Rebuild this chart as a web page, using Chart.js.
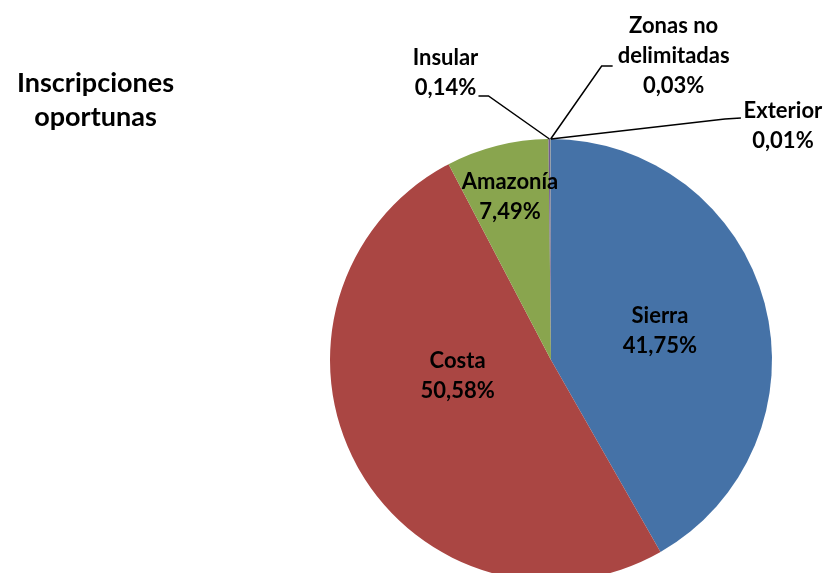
<!DOCTYPE html>
<html>
<head>
<meta charset="utf-8">
<script src="https://cdn.jsdelivr.net/npm/chart.js@4"></script>
<style>
  html, body { margin: 0; padding: 0; background: #fff; overflow: hidden; }
  #wrap { position: relative; width: 823px; height: 620px; }
  #titulo {
    position: absolute; left: 0; top: 65px; width: 191px;
    font: bold 27px Lato, "Open Sans", sans-serif; color: #000;
    text-align: center; line-height: 34px;
  }
</style>
</head>
<body>
<div id="wrap">
  <div id="titulo">Inscripciones<br>oportunas</div>
  <canvas id="grafico" width="823" height="620"></canvas>
</div>
<script>
// Regiones y porcentajes de inscripciones oportunas
const regiones = ['Sierra', 'Costa', 'Amazonía', 'Insular', 'Zonas no delimitadas', 'Exterior'];
const porcentajes = [41.75, 50.58, 7.49, 0.14, 0.03, 0.01];
const etiquetas = [['Sierra'], ['Costa'], ['Amazonía'], ['Insular'], ['Zonas no', 'delimitadas'], ['Exterior']];
const colores = ['#4572A7', '#AA4643', '#89A54E', '#71588F', '#4198AF', '#DB843D'];

// Ubicacion de cada etiqueta (dentro: fraccion del radio; fuera: desplazamiento desde el borde)
const ubicaciones = [
  { dentro: true, r: 0.51, dx: 0, dy: 0 },
  { dentro: true, r: 0.43, dx: -10, dy: -30 },
  { dentro: true, r: 0.76, dx: 0, dy: 0 },
  { dentro: false, tx: -104, ty: -81, codo: [-61, -43], fin: [-71, -43] },
  { dentro: false, tx: 123, ty: -113, codo: [51, -73], fin: [62, -73] },
  { dentro: false, tx: 232, ty: -28, codo: [174, -20], fin: [190, -21] },
];

function formatoPct(v) {
  return v.toFixed(2).replace('.', ',') + '%';
}

const etiquetasPlugin = {
  id: 'etiquetas',
  afterDatasetsDraw(chart) {
    const ctx = chart.ctx;
    const arcos = chart.getDatasetMeta(0).data;
    ctx.save();
    ctx.font = 'bold 22px Lato, "Open Sans", sans-serif';
    ctx.fillStyle = '#000';
    ctx.textAlign = 'center';
    ctx.textBaseline = 'middle';
    const alto = 30;
    arcos.forEach((arco, i) => {
      const p = arco.getProps(['x', 'y', 'startAngle', 'endAngle', 'outerRadius']);
      const medio = (p.startAngle + p.endAngle) / 2;
      const u = ubicaciones[i];
      const lineas = etiquetas[i].concat([formatoPct(porcentajes[i])]);
      if (u.dentro) {
        const cx = p.x + Math.cos(medio) * p.outerRadius * u.r + u.dx;
        const cy = p.y + Math.sin(medio) * p.outerRadius * u.r + u.dy;
        const y0 = cy - (lineas.length - 1) * alto / 2;
        lineas.forEach((t, k) => ctx.fillText(t, cx, y0 + k * alto));
      } else {
        const ax = p.x + Math.cos(medio) * p.outerRadius;
        const ay = p.y + Math.sin(medio) * p.outerRadius;
        ctx.strokeStyle = '#000';
        ctx.lineWidth = 1.5;
        ctx.beginPath();
        ctx.moveTo(ax, ay);
        ctx.lineTo(ax + u.codo[0], ay + u.codo[1]);
        ctx.lineTo(ax + u.fin[0], ay + u.fin[1]);
        ctx.stroke();
        lineas.forEach((t, k) => ctx.fillText(t, ax + u.tx, ay + u.ty + k * alto));
      }
    });
    ctx.restore();
  }
};

new Chart(document.getElementById('grafico').getContext('2d'), {
  type: 'pie',
  data: {
    labels: regiones,
    datasets: [{
      data: porcentajes,
      backgroundColor: colores,
      borderWidth: 0,
    }],
  },
  options: {
    responsive: false,
    animation: false,
    layout: { padding: { left: 330, right: 51, top: 139, bottom: 39 } },
    plugins: {
      legend: { display: false },
      tooltip: { enabled: false },
    },
  },
  plugins: [etiquetasPlugin],
});
</script>
</body>
</html>
